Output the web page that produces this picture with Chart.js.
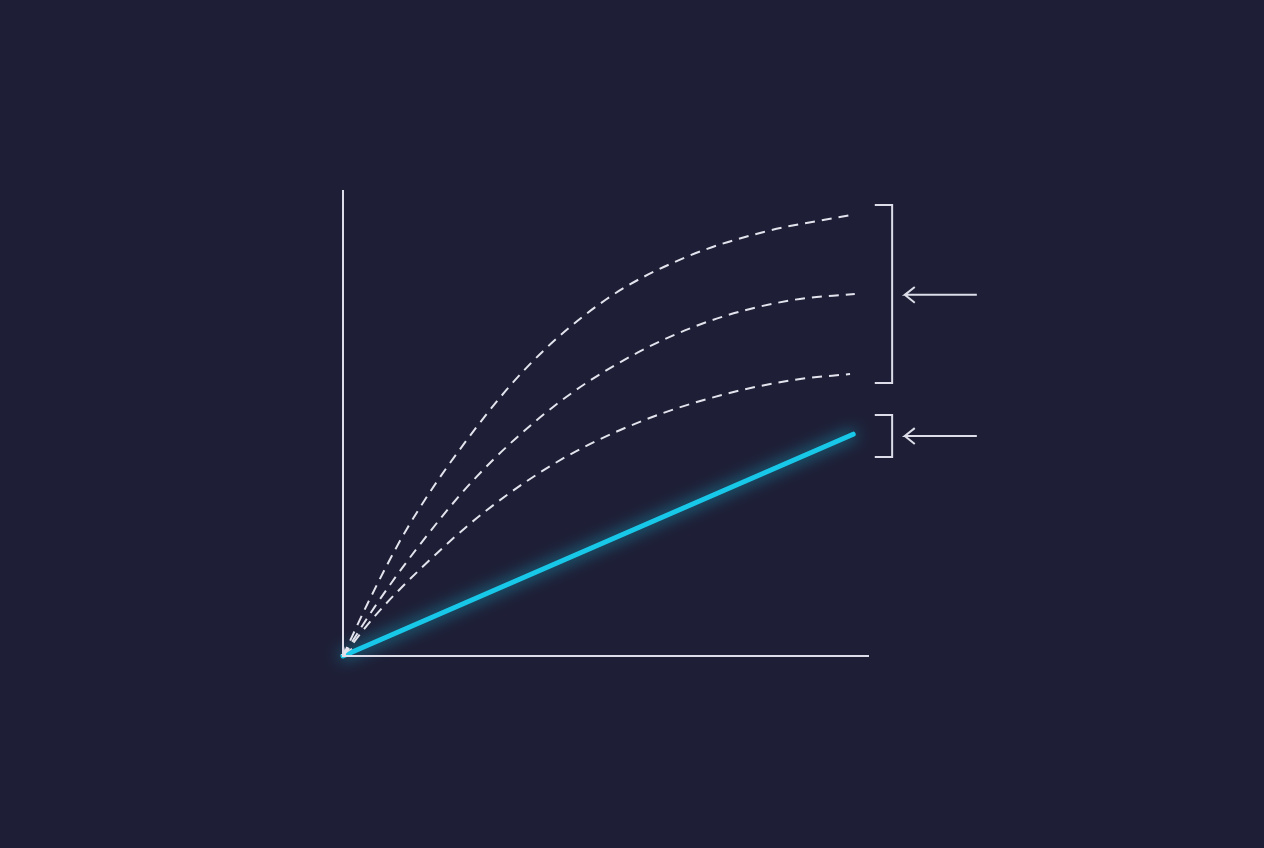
<!DOCTYPE html>
<html>
<head>
<meta charset="utf-8">
<script src="https://cdn.jsdelivr.net/npm/chart.js@4.4.1/dist/chart.umd.min.js"></script>
<style>
  html, body { margin: 0; padding: 0; background: #1e1f36; }
  #wrap { width: 1264px; height: 848px; position: relative; }
</style>
</head>
<body>
<div id="wrap"><canvas id="myChart"></canvas></div>
<script>
// data (x / y in chart units, 0..100 = axis length)
const topCurveX = [0, 5, 12, 22, 35, 50, 65, 80, 96.4];
const topCurveY = [0, 12, 27, 44, 62, 76.5, 85.5, 91, 94.6];

const midCurveX = [0, 6, 14, 25, 40, 55, 70, 85, 97.3];
const midCurveY = [0, 10.5, 23, 38, 53.5, 64.5, 72, 76.3, 77.7];

const lowCurveX = [0, 6, 15, 27, 42, 57, 72, 86, 96.4];
const lowCurveY = [0, 8.5, 19, 31, 42.5, 50.5, 56, 59.3, 60.5];

const actualX = [0, 97.0];
const actualY = [0, 47.6];

// brackets + arrows on the right side
const bracketBigX = [101.1, 104.4, 104.4, 101.1];
const bracketBigY = [96.8, 96.8, 58.6, 58.6];
const bracketSmallX = [101.1, 104.4, 104.4, 101.1];
const bracketSmallY = [51.7, 51.7, 42.7, 42.7];
const arrowTopX = [120.5, 106.8, 108.7, 106.8, 108.7];
const arrowTopY = [77.5, 77.5, 79.2, 77.5, 75.8];
const arrowLowX = [120.5, 106.8, 108.7, 106.8, 108.7];
const arrowLowY = [47.2, 47.2, 48.9, 47.2, 45.5];

// small arrow head at the origin
const originHeadX = [0, 0.4, 0.0, 1.7];
const originHeadY = [2.3, 0.4, 0.4, 1.6];

const axisX = [0, 0, 100];
const axisY = [100, 0, 0];

function pts(xs, ys) {
    return xs.map((x, i) => ({ x: x, y: ys[i] }));
}

const lineColor = '#dcdde8';

function lineSet(xs, ys, extra) {
    return Object.assign({
        data: pts(xs, ys),
        borderColor: lineColor,
        borderWidth: 2,
        pointRadius: 0,
        fill: false,
        tension: 0,
        clip: false
    }, extra || {});
}

function dashedSet(xs, ys) {
    return lineSet(xs, ys, {
        borderDash: [10, 7],
        cubicInterpolationMode: 'monotone',
        borderWidth: 2,
        borderColor: '#e2e3ec'
    });
}

// glow for the cyan line
const glowPlugin = {
    id: 'glow',
    beforeDatasetDraw(chart, args) {
        const ds = chart.data.datasets[args.index];
        if (ds.glow) {
            chart.ctx.save();
            chart.ctx.shadowColor = 'rgba(24, 200, 232, 0.9)';
            chart.ctx.shadowBlur = 16;
        }
    },
    afterDatasetDraw(chart, args) {
        const ds = chart.data.datasets[args.index];
        if (ds.glow) {
            chart.ctx.restore();
        }
    }
};

const bgPlugin = {
    id: 'bg',
    beforeDraw(chart) {
        const c = chart.ctx;
        c.save();
        c.fillStyle = '#1e1f36';
        c.fillRect(0, 0, chart.width, chart.height);
        c.restore();
    }
};

const ctx = document.getElementById('myChart').getContext('2d');
new Chart(ctx, {
    type: 'line',
    data: {
        datasets: [
            lineSet(axisX, axisY, { borderWidth: 2 }),
            dashedSet(topCurveX, topCurveY),
            dashedSet(midCurveX, midCurveY),
            dashedSet(lowCurveX, lowCurveY),
            lineSet(originHeadX, originHeadY, { borderWidth: 1.5 }),
            lineSet(actualX, actualY, { borderColor: '#18c8e8', borderWidth: 5, borderCapStyle: 'round', glow: true }),
            lineSet(bracketBigX, bracketBigY),
            lineSet(bracketSmallX, bracketSmallY),
            lineSet(arrowTopX, arrowTopY),
            lineSet(arrowLowX, arrowLowY)
        ]
    },
    options: {
        responsive: true,
        maintainAspectRatio: false,
        animation: false,
        layout: {
            padding: { left: 343, right: 395, top: 190, bottom: 192 }
        },
        plugins: {
            legend: { display: false },
            tooltip: { enabled: false }
        },
        scales: {
            x: { type: 'linear', min: 0, max: 100, display: false },
            y: { type: 'linear', min: 0, max: 100, display: false }
        }
    },
    plugins: [bgPlugin, glowPlugin]
});
</script>
</body>
</html>
